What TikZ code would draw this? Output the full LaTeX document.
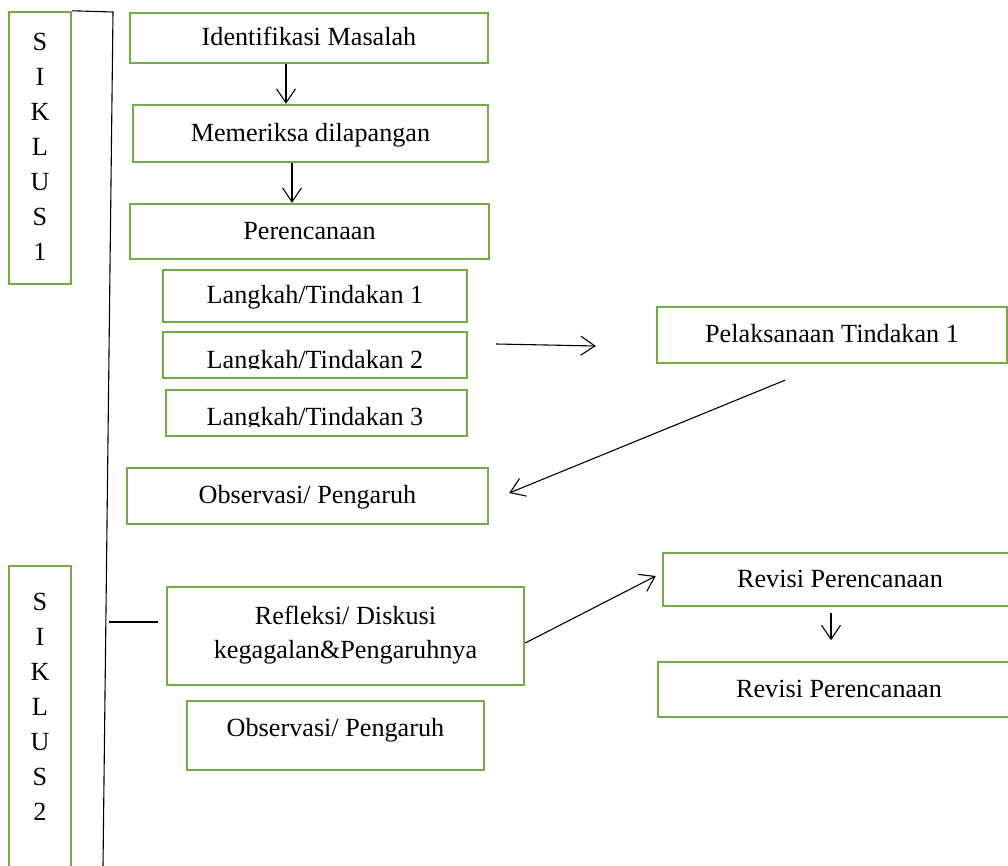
\documentclass[tikz,border=0pt]{standalone}
\usepackage{fontspec}
\setmainfont{Liberation Serif}
\usetikzlibrary{arrows.meta}
\definecolor{boxgreen}{HTML}{70AD47}
\begin{document}
\begin{tikzpicture}[x=1pt,y=-1pt,
  box/.style={draw=boxgreen, line width=2.4pt, inner sep=0pt, text height=21pt, text depth=5.2pt,
    align=center, font=\fontsize{26.2}{34}\selectfont},
  emptybox/.style={draw=boxgreen, line width=2.4pt, inner sep=0pt},
  txt/.style={inner sep=0pt, align=center, font=\fontsize{26.2}{34}\selectfont},
  vtxt/.style={inner sep=0pt, align=center, font=\fontsize{26.2}{35.1}\selectfont},
  conn/.style={line width=1.1pt, draw=black},
  arr/.style={conn, -{Straight Barb[length=14pt,width=19pt]}}]
\clip (0,0) rectangle (1008,866);
\useasboundingbox (0,0) rectangle (1008,866);

% Siklus boxes
\node[emptybox, minimum width=62, minimum height=272] (S1) at (40,148) {};
\node[vtxt, anchor=north] (S1t) at (40,32.5) {S\\I\\K\\L\\U\\S\\1};
\node[emptybox, minimum width=62, minimum height=314] (S2) at (40,723) {};
\node[vtxt, anchor=north] (S2t) at (40,592.5) {S\\I\\K\\L\\U\\S\\2};

% bracket line
\coordinate (bt) at (113,12);
\coordinate (bb) at (103,866);
\draw[conn] (S1.north east) -- (bt) -- (bb);

% main column
\node[box, minimum width=358, minimum height=50] (I) at (309,38) {Identifikasi Masalah};
\node[box, minimum width=355, minimum height=57] (M) at (310.5,133.5) {Memeriksa dilapangan};
\node[box, minimum width=359, minimum height=55] (P) at (309.5,231.5) {Perencanaan};
\node[box, minimum width=304, minimum height=52] (L1) at (315,296) {Langkah/Tindakan 1};
\node[emptybox, minimum width=304, minimum height=46] (L2) at (315,355) {};
\begin{scope}
  \clip (163,332) rectangle (467,368.6);
  \node[txt, anchor=base] (L2t) at (315,368) {Langkah/Tindakan 2};
\end{scope}
\node[emptybox, minimum width=301, minimum height=46] (L3) at (316.5,413) {};
\begin{scope}
  \clip (166,390) rectangle (467,426.1);
  \node[txt, anchor=base] (L3t) at (315,425.5) {Langkah/Tindakan 3};
\end{scope}
\node[box, minimum width=350, minimum height=56] (Pel) at (832,335) {Pelaksanaan Tindakan 1};
\node[box, minimum width=361, minimum height=56] (O1) at (307.5,496) {Observasi/ Pengaruh};
\node[emptybox, minimum width=357, minimum height=98] (R) at (345.5,636) {};
\node[txt] (Rt) at (345.5,635) {Refleksi/ Diskusi\\kegagalan\&Pengaruhnya};
\node[box, minimum width=297, minimum height=69, text depth=19.8pt] (O2) at (335.5,735.5) {Observasi/ Pengaruh};
\node[box, minimum width=354, minimum height=53] (Rv1) at (840,579.5) {Revisi Perencanaan};
\node[box, minimum width=362, minimum height=55] (Rv2) at (839,689.5) {Revisi Perencanaan};

% connectors
\draw[arr] ([xshift=-23]I.south) -- ([xshift=-23]I.south |- M.north);
\draw[arr] ([xshift=-18.5]M.south) -- ([xshift=-18.5]M.south |- P.north);
\draw[arr] ([shift={(28,-11)}]L2.east) -- ([shift={(-60,11)}]Pel.west);
\draw[arr] ([shift={(-47,16)}]Pel.south) -- ([shift={(20,-3)}]O1.east);
\draw[conn] ([shift={(-57,-14)}]R.west) -- ([shift={(-8,-14)}]R.west);
\draw[arr] ([shift={(0,7)}]R.east) -- ([shift={(-6,-3.5)}]Rv1.west);
\draw[arr] ([shift={(-9,6)}]Rv1.south) -- ([shift={(-9,33)}]Rv1.south);
\end{tikzpicture}
\end{document}
